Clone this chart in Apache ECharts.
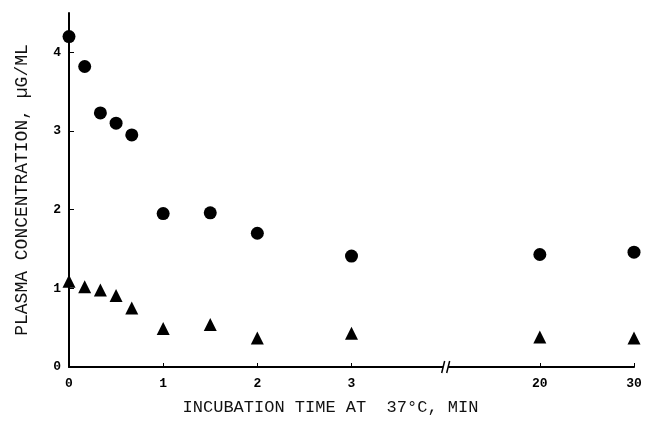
<!DOCTYPE html>
<html>
<head>
<meta charset="utf-8">
<script src="https://cdn.jsdelivr.net/npm/echarts@6/dist/echarts.min.js"></script>
<style>
  html, body { margin: 0; padding: 0; background: #fff; }
  #chart { width: 648px; height: 421px; }
</style>
</head>
<body>
<div id="chart"></div>
<script>
// incubation time (min) and plasma concentration (ug/ml)
const times = [0, 1 / 6, 1 / 3, 0.5, 2 / 3, 1, 1.5, 2, 3, 20, 30];
const circleValues = [4.2, 3.82, 3.23, 3.1, 2.95, 1.95, 1.96, 1.7, 1.41, 1.43, 1.46];
const triangleValues = [1.09, 1.02, 0.98, 0.91, 0.75, 0.49, 0.54, 0.37, 0.43, 0.38, 0.37];
const xTickTimes = [0, 1, 2, 3, 20, 30];
const yTicks = [0, 1, 2, 3, 4];

// broken x axis: 0-3 min linear, then 20 and 30 after the break
function axisPos(t) {
  return t <= 3 ? t : 5 + (t - 20) / 10;
}
const breakPos = 4;
const xTickPos = xTickTimes.map(axisPos);
const labelFor = {};
xTickTimes.forEach((t, i) => { labelFor[xTickPos[i]] = String(t); });

const font = '"Liberation Mono", "DejaVu Sans Mono", monospace';

const chart = echarts.init(document.getElementById('chart'));
chart.setOption({
  animation: false,
  grid: { left: 69, right: 14, top: 13, bottom: 53 },
  xAxis: {
    type: 'value',
    min: 0,
    max: 6,
    name: 'INCUBATION TIME AT  37°C, MIN',
    nameLocation: 'middle',
    nameGap: 32,
    nameTextStyle: { color: '#111', fontFamily: font, fontSize: 17, padding: [0, 42, 0, 0] },
    axisLine: { lineStyle: { color: '#000', width: 2 } },
    axisTick: { inside: true, length: 4, customValues: xTickPos, lineStyle: { color: '#000' } },
    axisLabel: {
      customValues: xTickPos,
      color: '#000', fontFamily: font, fontWeight: 'bold', fontSize: 13, margin: 10,
      formatter: v => labelFor[v] || ''
    },
    splitLine: { show: false }
  },
  yAxis: {
    type: 'value',
    min: 0,
    max: 4.5,
    name: 'PLASMA CONCENTRATION, µG/ML',
    nameLocation: 'middle',
    nameRotate: 90,
    nameGap: 38,
    nameTextStyle: { color: '#111', fontFamily: font, fontSize: 18 },
    axisLine: { show: true, lineStyle: { color: '#000', width: 2 } },
    axisTick: { show: true, inside: true, length: 5, customValues: yTicks.slice(1), lineStyle: { color: '#000' } },
    axisLabel: {
      customValues: yTicks,
      color: '#000', fontFamily: font, fontWeight: 'bold', fontSize: 13, margin: 8
    },
    splitLine: { show: false }
  },
  series: [
    {
      type: 'scatter',
      symbol: 'circle',
      symbolSize: 13,
      itemStyle: { color: '#000', opacity: 1 },
      data: times.map((t, i) => [axisPos(t), circleValues[i]])
    },
    {
      type: 'scatter',
      symbol: 'triangle',
      symbolSize: 13,
      itemStyle: { color: '#000', opacity: 1 },
      data: times.map((t, i) => [axisPos(t), triangleValues[i]])
    },
    {
      type: 'custom',
      silent: true,
      data: [[breakPos, 0]],
      renderItem: function (params, api) {
        const p = api.coord([api.value(0), api.value(1)]);
        return {
          type: 'group',
          children: [
            { type: 'rect', shape: { x: p[0] - 2.5, y: p[1] - 2, width: 5, height: 4 }, style: { fill: '#fff' } },
            { type: 'line', shape: { x1: p[0] - 4, y1: p[1] + 6, x2: p[0] - 1, y2: p[1] - 6 }, style: { stroke: '#000', lineWidth: 1.5 } },
            { type: 'line', shape: { x1: p[0] + 1, y1: p[1] + 6, x2: p[0] + 4, y2: p[1] - 6 }, style: { stroke: '#000', lineWidth: 1.5 } }
          ]
        };
      }
    }
  ]
});
</script>
</body>
</html>
